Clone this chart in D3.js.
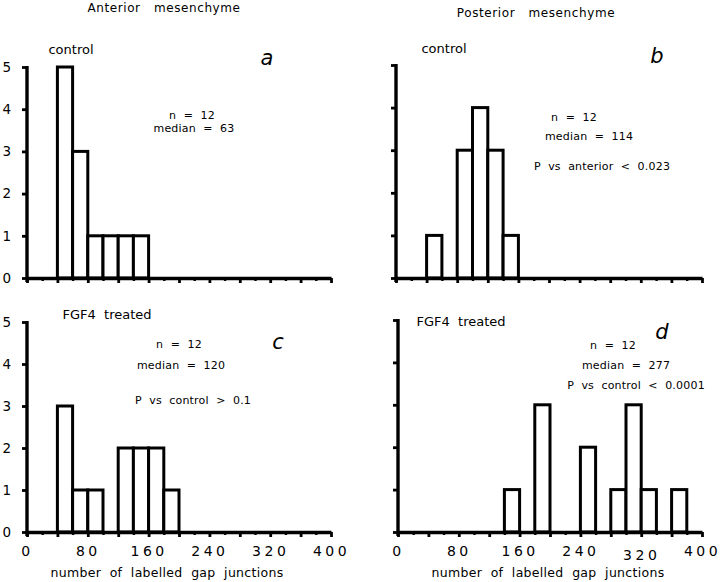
<!DOCTYPE html>
<html>
<head>
<meta charset="utf-8">
<script src="https://cdn.jsdelivr.net/npm/d3@7"></script>
<style>
  html, body { margin: 0; padding: 0; background: #fff; }
  svg { display: block; }
  text { font-family: "DejaVu Sans", sans-serif; fill: #000; }
</style>
</head>
<body>
<svg id="chart" width="720" height="582"></svg>
<script>
// ---- data ----
const binWidth = 20;
const binStarts = d3.range(0, 400, 20);
// counts per 20-wide bin, 0..400
const countsA = [0,0,5,3,1,1,1,1,0,0,0,0,0,0,0,0,0,0,0,0]; // anterior control
const countsB = [0,0,1,0,3,4,3,1,0,0,0,0,0,0,0,0,0,0,0,0]; // posterior control
const countsC = [0,0,3,1,1,0,2,2,2,1,0,0,0,0,0,0,0,0,0,0]; // anterior FGF4
const countsD = [0,0,0,0,0,0,0,1,0,3,0,0,2,0,1,3,1,0,1,0]; // posterior FGF4
const xTickValues = d3.range(0, 401, 20);
const xTickLabels = ["0","80","160","240","320","400"];
const yTickValues = [0,1,2,3,4,5];
const columnTitles = ["Anterior   mesenchyme", "Posterior   mesenchyme"];
const conditionLabels = ["control", "control", "FGF4  treated", "FGF4  treated"];
const panelLetters = ["a", "b", "c", "d"];
const statsA = ["n  =  12", "median  =  63"];
const statsB = ["n  =  12", "median  =  114", "P  vs  anterior  <  0.023"];
const statsC = ["n  =  12", "median  =  120", "P  vs  control  >  0.1"];
const statsD = ["n  =  12", "median  =  277", "P  vs  control  <  0.0001"];
const xAxisTitle = "number  of  labelled  gap  junctions";

const svg = d3.select("#chart");

// layout
const panels = [
  {counts: countsA, x0: 27,  x1: 331, yb: 278, yt: 67,  ylab: true,  xlab: false,
   cond: [71, 54], letter: [267, 65], stats: statsA, statPos: [[192,119],[194,132]]},
  {counts: countsB, x0: 396, x1: 702, yb: 278, yt: 65,  ylab: false, xlab: false,
   cond: [444, 53], letter: [657, 63], stats: statsB, statPos: [[574,121],[589,140],[602,170]]},
  {counts: countsC, x0: 27,  x1: 331, yb: 532, yt: 322, ylab: true,  xlab: true,
   cond: [107, 319], letter: [278, 349], stats: statsC, statPos: [[179,348],[181,369],[193,404]]},
  {counts: countsD, x0: 398, x1: 702, yb: 532, yt: 320, ylab: false, xlab: true,
   cond: [461, 326], letter: [662, 339], stats: statsD, statPos: [[613,349],[626,369],[636,389]]}
];

// column titles
svg.append("text").attr("x", 164).attr("y", 12).attr("text-anchor", "middle")
  .attr("font-size", 12).attr("letter-spacing", 0.6).style("white-space", "pre")
  .text(columnTitles[0]);
svg.append("text").attr("x", 536).attr("y", 17).attr("text-anchor", "middle")
  .attr("font-size", 12).attr("letter-spacing", 0.6).style("white-space", "pre")
  .text(columnTitles[1]);

panels.forEach((p, i) => {
  const x = d3.scaleLinear().domain([0, 400]).range([p.x0, p.x1]);
  const y = d3.scaleLinear().domain([0, 5]).range([p.yb, p.yt]);
  const g = svg.append("g");

  // bars
  const bins = binStarts.map((s, k) => ({start: s, count: p.counts[k]})).filter(d => d.count > 0);
  g.selectAll("rect.bar").data(bins).join("rect")
    .attr("class", "bar")
    .attr("x", d => x(d.start))
    .attr("width", d => x(d.start + binWidth) - x(d.start))
    .attr("y", d => y(d.count))
    .attr("height", d => y(0) - y(d.count))
    .attr("fill", "#fff").attr("stroke", "#000").attr("stroke-width", 3);

  // y axis
  const yAxis = d3.axisLeft(y).tickValues(yTickValues).tickSize(5).tickSizeOuter(0).tickPadding(11)
    .tickFormat(p.ylab ? d3.format("d") : () => "");
  const yg = g.append("g").attr("transform", `translate(${p.x0},0)`).call(yAxis);
  yg.select(".domain").attr("stroke-width", 3.4).attr("d", `M0,${p.yb + 4}V${p.yt - 1}`);
  yg.selectAll(".tick line").attr("stroke-width", 2.8);
  yg.selectAll(".tick text").attr("font-size", 13.5).attr("font-family", "DejaVu Sans");

  // x axis
  const xAxis = d3.axisBottom(x).tickValues(xTickValues).tickSizeOuter(0).tickPadding(8)
    .tickFormat(v => (p.xlab && v % 80 === 0) ? xTickLabels[v / 80] : "");
  const xg = g.append("g").attr("transform", `translate(0,${p.yb})`).call(xAxis);
  xg.select(".domain").attr("stroke-width", 3.4);
  xg.selectAll(".tick line")
    .attr("y2", v => v % 40 === 0 ? 5 : 3)
    .attr("stroke-width", v => v % 40 === 0 ? 2.8 : 2.4);
  xg.selectAll(".tick text").attr("font-size", 14).attr("font-family", "DejaVu Sans")
    .attr("letter-spacing", 3.5)
    .attr("dy", v => (i === 3 && v === 320) ? "1.0em" : "0.71em");

  // axis title
  if (p.xlab) {
    svg.append("text").attr("x", (p.x0 + p.x1) / 2 + (i === 2 ? -12 : -2)).attr("y", 577)
      .attr("text-anchor", "middle").attr("font-size", 12.5).attr("letter-spacing", 0.3)
      .style("white-space", "pre").text(xAxisTitle);
  }

  // condition label
  svg.append("text").attr("x", p.cond[0]).attr("y", p.cond[1]).attr("text-anchor", "middle")
    .attr("font-size", 13).style("white-space", "pre").text(conditionLabels[i]);

  // panel letter
  svg.append("text").attr("x", p.letter[0]).attr("y", p.letter[1]).attr("text-anchor", "middle")
    .attr("font-size", 21).attr("font-style", "italic")
    .attr("font-family", "Liberation Sans, Arial, sans-serif")
    .text(panelLetters[i]);

  // stats
  p.stats.forEach((s, k) => {
    svg.append("text").attr("x", p.statPos[k][0]).attr("y", p.statPos[k][1])
      .attr("text-anchor", "middle").attr("font-size", 11).attr("letter-spacing", 0.2)
      .style("white-space", "pre").text(s);
  });
});
</script>
</body>
</html>
